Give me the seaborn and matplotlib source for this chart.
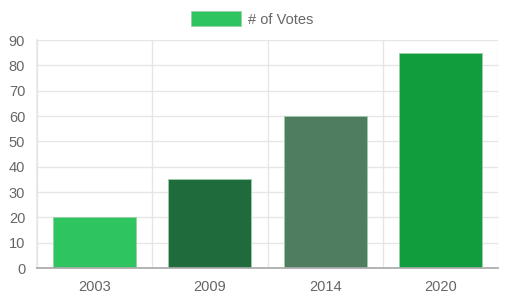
import matplotlib
matplotlib.use("Agg")
import matplotlib.pyplot as plt
import seaborn as sns
import pandas as pd
from matplotlib.patches import Patch

years = ["2003", "2009", "2014", "2020"]
votes = [20, 35, 60, 85]
colors = ["#2ec45f", "#1f6b3b", "#4e7d5f", "#119c3e"]
legend_label = "# of Votes"
y_ticks = [0, 10, 20, 30, 40, 50, 60, 70, 80, 90]

sns.set_theme(style="white")
plt.rcParams["font.family"] = ["Liberation Sans", "DejaVu Sans"]

df = pd.DataFrame({"year": years, "votes": votes})

fig = plt.figure(figsize=(5.18, 3.02), dpi=100)
ax = fig.add_axes([37/518, 34/302, 461/518, 228/302])

sns.barplot(data=df, x="year", y="votes", hue="year", palette=colors,
            width=0.72, legend=False, ax=ax, saturation=1,
            edgecolor="#9ccfa8", linewidth=0.6)

ax.set_xlim(-0.5, 3.5)
ax.set_ylim(0, 90)
ax.set_yticks(y_ticks)
ax.set_xlabel("")
ax.set_ylabel("")

grid_c = "#e6e6e6"
fs = 10.5
ax.set_xticks([-0.5, 0.5, 1.5, 2.5, 3.5], minor=True)
ax.grid(True, axis="y", which="major", color=grid_c, linewidth=1)
ax.grid(True, axis="x", which="minor", color=grid_c, linewidth=1)
ax.set_axisbelow(True)
ax.tick_params(axis="x", which="major", length=0, pad=8.5, labelsize=fs, labelcolor="#666666")
ax.tick_params(axis="x", which="minor", length=8.5, color=grid_c, width=1)
ax.tick_params(axis="y", which="major", length=6.5, color=grid_c, width=1, pad=2,
               labelsize=fs, labelcolor="#666666")

for s in ["top", "right"]:
    ax.spines[s].set_visible(False)
ax.spines["left"].set_color(grid_c)
ax.spines["bottom"].set_color("#aaaaaa")
ax.spines["bottom"].set_zorder(5)

handle = Patch(facecolor=colors[0], edgecolor="#9ccfa8", linewidth=0.6)
fig.legend([handle], [legend_label], loc="center", bbox_to_anchor=(252.5/518, 1 - 19/302),
           frameon=False, fontsize=fs, labelcolor="#666666",
           handlelength=3.4, handleheight=1.2, handletextpad=0.5)

fig.savefig("out.png", dpi=100)
